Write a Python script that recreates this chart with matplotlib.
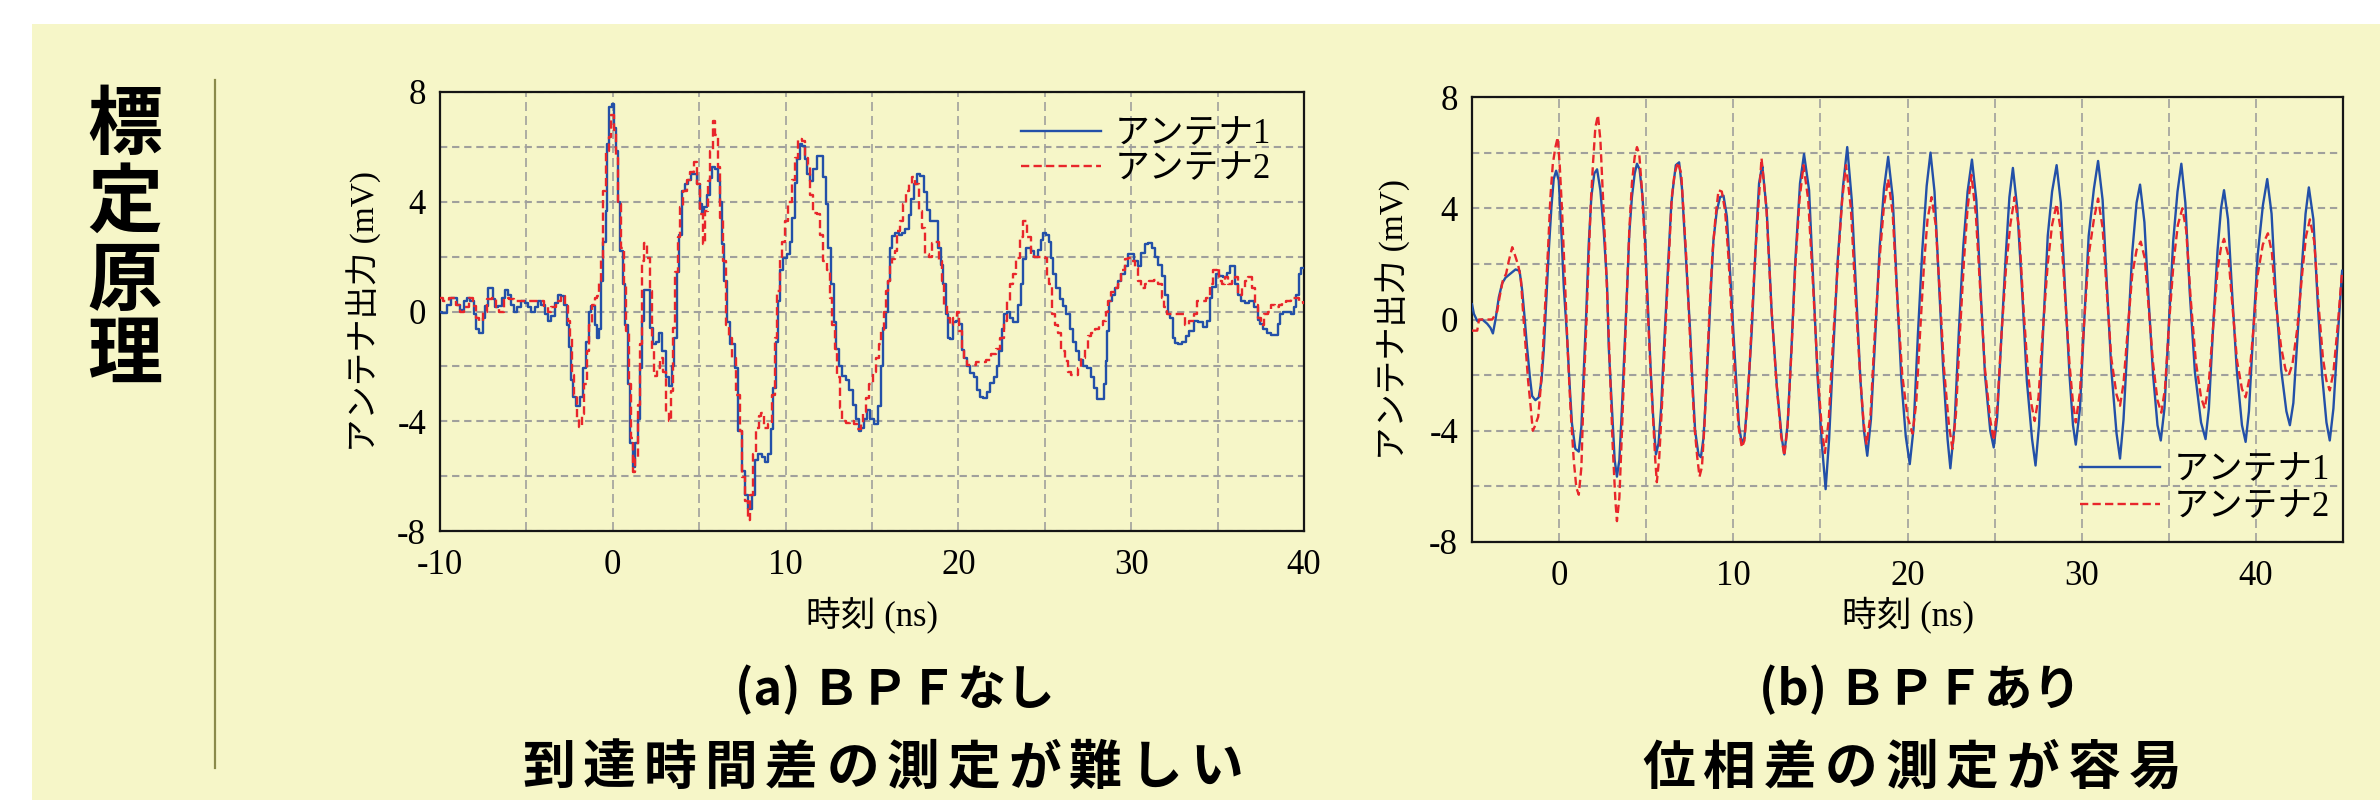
import numpy as np
import matplotlib
matplotlib.use("Agg")
import matplotlib.pyplot as plt
from matplotlib.patches import Rectangle
from matplotlib.lines import Line2D

# ---- データ (時刻 ns, 出力 mV) ----
# (a) BPFなし アンテナ1
sig_a1 = [
    (-10.0, 0.0), (-9.74, -0.05), (-9.45, 0.25), (-9.26, 0.5), (-9.06, 0.5), (-8.97, 0.25), (-8.77, 0.05),
    (-8.48, 0.4), (-8.39, 0.5), (-8.1, 0.4), (-8.0, -0.1), (-7.85, -0.65), (-7.62, -0.8), (-7.42, -0.25),
    (-7.32, 0.2), (-7.17, 0.85), (-7.03, 0.85), (-6.84, 0.45), (-6.75, 0.15), (-6.49, 0.2), (-6.36, 0.5),
    (-6.17, 0.8), (-5.97, 0.6), (-5.78, 0.25), (-5.68, 0.0), (-5.39, 0.15), (-5.2, 0.4), (-5.01, 0.3),
    (-4.81, 0.15), (-4.62, 0.0), (-4.43, 0.15), (-4.23, 0.4), (-4.04, 0.25), (-3.85, -0.1), (-3.65, -0.35),
    (-3.46, -0.15), (-3.27, 0.3), (-3.13, 0.6), (-2.88, 0.55), (-2.75, 0.25), (-2.59, -0.5), (-2.44, -1.3),
    (-2.36, -2.5), (-2.2, -3.1), (-2.01, -3.45), (-1.82, -3.1), (-1.62, -2.05), (-1.47, -1.1), (-1.33, 0.0),
    (-1.14, 0.2), (-0.95, -0.5), (-0.85, -0.95), (-0.72, -0.65), (-0.62, 1.1), (-0.47, 2.55), (-0.37, 3.65),
    (-0.27, 6.1), (-0.14, 7.45), (0.02, 7.55), (0.11, 6.7), (0.21, 5.85), (0.35, 4.0), (0.5, 2.2),
    (0.66, 1.0), (0.79, -0.5), (0.93, -2.65), (1.08, -4.8), (1.24, -5.65), (1.37, -4.8), (1.51, -3.9),
    (1.62, -2.05), (1.76, -0.35), (1.89, 0.8), (2.05, 0.8), (2.2, -0.6), (2.4, -1.2), (2.59, -1.1),
    (2.78, -0.8), (2.97, -1.45), (3.17, -2.4), (3.36, -2.7), (3.5, -2.0), (3.63, -0.95), (3.75, 1.45),
    (3.94, 2.8), (4.08, 4.4), (4.27, 4.65), (4.46, 4.8), (4.6, 5.0), (4.79, 5.0), (4.95, 4.65),
    (5.1, 3.9), (5.24, 3.6), (5.37, 3.8), (5.53, 4.25), (5.68, 4.85), (5.85, 5.25), (6.01, 5.2),
    (6.14, 4.75), (6.26, 4.0), (6.39, 2.45), (6.53, 1.1), (6.7, -0.4), (6.92, -1.2), (7.17, -2.05),
    (7.36, -4.35), (7.55, -5.8), (7.75, -6.7), (7.94, -7.2), (8.13, -6.7), (8.33, -5.4), (8.52, -5.2),
    (8.71, -5.3), (8.91, -5.5), (9.1, -5.2), (9.23, -4.3), (9.35, -2.8), (9.49, -1.1), (9.62, 0.4),
    (9.78, 1.5), (9.97, 1.95), (10.16, 2.1), (10.32, 2.55), (10.45, 3.4), (10.59, 4.7), (10.74, 5.55),
    (10.9, 6.1), (11.03, 6.05), (11.17, 5.55), (11.32, 5.0), (11.51, 4.75), (11.71, 5.2), (11.9, 5.65),
    (12.09, 5.65), (12.25, 4.9), (12.38, 3.9), (12.58, 2.3), (12.71, 1.0), (12.87, -0.4), (13.02, -1.35),
    (13.16, -2.0), (13.35, -2.35), (13.6, -2.5), (13.79, -2.85), (13.99, -3.4), (14.12, -3.9), (14.32, -4.35),
    (14.45, -4.25), (14.61, -3.9), (14.76, -3.6), (14.99, -3.9), (15.22, -4.1), (15.42, -3.45), (15.57, -2.0),
    (15.73, -0.6), (15.86, 0.0), (15.96, 1.1), (16.09, 2.3), (16.25, 2.75), (16.44, 2.85), (16.63, 2.8),
    (16.83, 2.85), (17.02, 3.0), (17.21, 3.5), (17.35, 4.1), (17.5, 4.65), (17.7, 5.0), (17.89, 4.95),
    (18.08, 4.35), (18.24, 3.7), (18.43, 3.3), (18.76, 3.3), (18.9, 2.3), (19.05, 1.7), (19.21, 1.0),
    (19.3, -0.1), (19.44, -0.95), (19.59, -1.0), (19.79, -0.4), (19.96, -0.35), (20.11, -0.45), (20.25, -1.4),
    (20.4, -1.7), (20.6, -2.0), (20.79, -2.25), (20.98, -2.4), (21.14, -2.85), (21.33, -3.1), (21.52, -3.15),
    (21.76, -2.95), (21.95, -2.6), (22.14, -2.4), (22.3, -2.0), (22.43, -1.45), (22.57, -0.65), (22.72, -0.1),
    (22.92, 0.0), (23.07, -0.25), (23.26, -0.4), (23.39, -0.4), (23.54, 0.25), (23.69, 1.0), (23.83, 1.9),
    (23.96, 2.3), (24.12, 2.3), (24.27, 2.2), (24.47, 2.0), (24.7, 2.25), (24.85, 2.6), (24.99, 2.85),
    (25.18, 2.8), (25.32, 2.55), (25.43, 1.95), (25.57, 1.35), (25.76, 0.85), (25.96, 0.45), (26.11, 0.2),
    (26.34, -0.1), (26.53, -0.65), (26.73, -1.1), (26.92, -1.45), (27.06, -1.75), (27.31, -2.0), (27.6, -2.05),
    (27.79, -2.4), (27.95, -2.8), (28.08, -3.2), (28.33, -3.2), (28.47, -2.65), (28.56, -1.8), (28.66, -0.7),
    (28.8, 0.4), (28.95, 0.6), (29.14, 0.85), (29.34, 1.1), (29.53, 1.35), (29.72, 1.65), (29.92, 2.1),
    (30.07, 2.1), (30.26, 1.85), (30.5, 1.65), (30.69, 2.15), (30.88, 2.45), (31.08, 2.5), (31.27, 2.3),
    (31.46, 2.0), (31.66, 1.7), (31.85, 1.3), (32.04, 0.6), (32.2, -0.1), (32.33, -0.25), (32.49, -0.95),
    (32.62, -1.15), (32.85, -1.2), (33.05, -1.1), (33.24, -0.9), (33.49, -0.7), (33.74, -0.35), (34.01, -0.4),
    (34.26, -0.55), (34.46, -0.35), (34.61, 0.5), (34.79, 0.9), (34.98, 1.35), (35.23, 1.3), (35.42, 1.25),
    (35.62, 1.4), (35.81, 1.65), (35.95, 1.65), (36.1, 1.0), (36.25, 0.6), (36.49, 0.4), (36.72, 0.3),
    (36.97, 0.4), (37.22, 0.15), (37.41, -0.3), (37.55, -0.45), (37.74, -0.65), (37.99, -0.8), (38.23, -0.85),
    (38.42, -0.85), (38.57, -0.45), (38.71, -0.1), (38.84, 0.0), (39.09, 0.0), (39.35, -0.1), (39.5, 0.15),
    (39.62, 0.6), (39.77, 1.35), (39.93, 1.6), (40.0, 1.6),
]
# (a) BPFなし アンテナ2
sig_a2 = [
    (-10.0, 0.5), (-9.64, 0.4), (-9.35, 0.5), (-9.16, 0.5), (-8.97, 0.25), (-8.77, 0.0), (-8.48, 0.15),
    (-8.2, 0.5), (-8.0, 0.2), (-7.81, -0.25), (-7.62, -0.35), (-7.42, 0.0), (-7.13, 0.45), (-6.88, 0.5),
    (-6.69, 0.15), (-6.46, 0.0), (-6.17, 0.5), (-5.88, 0.45), (-5.59, 0.4), (-5.2, 0.4), (-4.81, 0.4),
    (-4.43, 0.4), (-4.14, 0.4), (-3.85, 0.15), (-3.65, 0.0), (-3.46, 0.15), (-3.17, 0.4), (-2.88, 0.55),
    (-2.69, 0.2), (-2.55, -0.35), (-2.44, -0.95), (-2.3, -2.3), (-2.17, -3.05), (-2.01, -3.9), (-1.88, -4.2),
    (-1.72, -3.75), (-1.59, -2.65), (-1.43, -1.45), (-1.28, -0.5), (-1.14, 0.25), (-0.95, 0.5), (-0.85, 0.55),
    (-0.76, 1.1), (-0.62, 1.95), (-0.47, 4.4), (-0.31, 5.85), (-0.18, 6.35), (-0.02, 7.15), (0.11, 6.6),
    (0.25, 5.6), (0.4, 3.9), (0.6, 2.3), (0.73, 1.0), (0.85, -0.7), (0.98, -2.65), (1.08, -4.6),
    (1.24, -5.85), (1.37, -5.35), (1.51, -3.4), (1.62, -1.2), (1.76, 1.85), (1.89, 2.5), (2.05, 1.95),
    (2.2, 0.75), (2.34, -1.45), (2.47, -2.35), (2.63, -2.05), (2.82, -1.7), (2.97, -2.2), (3.17, -3.65),
    (3.3, -4.0), (3.44, -2.9), (3.55, -0.6), (3.69, 1.45), (3.82, 2.7), (3.98, 3.8), (4.17, 4.4),
    (4.37, 4.8), (4.6, 5.1), (4.79, 5.45), (4.95, 4.65), (5.14, 3.55), (5.29, 2.45), (5.43, 3.65),
    (5.56, 4.75), (5.72, 5.85), (5.87, 6.95), (6.01, 6.45), (6.14, 5.25), (6.3, 3.4), (6.45, 1.85),
    (6.65, -0.5), (6.78, -0.95), (7.03, -1.7), (7.26, -3.05), (7.42, -4.35), (7.55, -6.05), (7.75, -6.9),
    (7.88, -7.6), (8.04, -6.7), (8.19, -5.2), (8.36, -4.25), (8.52, -3.8), (8.65, -3.7), (8.85, -4.25),
    (9.1, -4.1), (9.29, -3.05), (9.43, -0.95), (9.58, 0.75), (9.74, 1.95), (9.87, 2.55), (10.07, 3.3),
    (10.26, 4.0), (10.45, 4.8), (10.64, 5.6), (10.84, 6.3), (11.03, 6.2), (11.22, 5.6), (11.36, 5.35),
    (11.51, 4.25), (11.71, 3.6), (11.9, 3.55), (12.09, 2.8), (12.29, 1.85), (12.48, 1.5), (12.63, 0.5),
    (12.77, -0.5), (12.91, -1.35), (13.06, -2.4), (13.21, -3.5), (13.37, -4.0), (13.6, -4.05), (13.83, -4.0),
    (14.06, -4.1), (14.26, -4.3), (14.41, -4.1), (14.57, -3.65), (14.76, -3.15), (14.95, -2.65), (15.15, -2.2),
    (15.34, -1.7), (15.48, -1.2), (15.61, -0.7), (15.73, 0.0), (15.86, 0.75), (15.96, 1.1), (16.09, 1.7),
    (16.25, 1.9), (16.38, 2.2), (16.54, 2.95), (16.69, 3.3), (16.89, 3.9), (17.02, 4.4), (17.21, 4.65),
    (17.41, 4.9), (17.6, 4.65), (17.79, 3.65), (17.99, 3.05), (18.18, 2.1), (18.37, 2.0), (18.57, 2.5),
    (18.76, 2.55), (18.95, 1.85), (19.15, 1.1), (19.24, 0.25), (19.4, -0.25), (19.59, -0.5), (19.82, -0.25),
    (19.98, 0.0), (20.11, -0.7), (20.25, -1.35), (20.4, -1.8), (20.63, -1.95), (20.89, -1.95), (21.18, -1.85),
    (21.47, -1.85), (21.76, -1.75), (22.05, -1.55), (22.34, -1.35), (22.53, -0.95), (22.72, -0.35), (22.88, 0.4),
    (23.07, 1.0), (23.26, 1.35), (23.46, 1.95), (23.65, 2.7), (23.83, 3.3), (24.08, 2.7), (24.27, 2.1),
    (24.5, 2.0), (24.89, 2.0), (25.09, 1.95), (25.18, 1.25), (25.32, 1.0), (25.47, -0.1), (25.67, -0.5),
    (25.86, -0.8), (26.05, -1.45), (26.24, -1.8), (26.44, -2.2), (26.63, -2.3), (26.82, -2.3), (27.02, -2.05),
    (27.21, -1.7), (27.4, -1.35), (27.6, -0.9), (27.79, -0.8), (28.02, -0.65), (28.27, -0.5), (28.47, -0.35),
    (28.6, 0.0), (28.76, 0.4), (28.95, 0.7), (29.14, 0.85), (29.34, 1.0), (29.53, 1.5), (29.72, 1.9),
    (29.92, 1.95), (30.11, 1.85), (30.3, 1.6), (30.5, 1.1), (30.69, 0.85), (30.92, 1.0), (31.17, 1.1),
    (31.46, 1.15), (31.69, 1.0), (31.85, 0.5), (32.0, 0.15), (32.2, -0.1), (32.43, -0.1), (32.72, -0.1),
    (33.01, -0.1), (33.24, -0.5), (33.49, -0.35), (33.74, -0.1), (33.88, 0.4), (34.17, 0.4), (34.46, 0.5),
    (34.65, 1.0), (34.84, 1.5), (35.04, 1.6), (35.17, 1.1), (35.33, 1.0), (35.52, 1.25), (35.71, 1.0),
    (35.91, 1.1), (36.1, 1.25), (36.29, 0.6), (36.49, 0.85), (36.68, 1.1), (36.87, 1.25), (37.1, 0.85),
    (37.26, 0.25), (37.45, -0.25), (37.61, -0.5), (37.8, -0.1), (37.99, 0.0), (38.23, 0.25), (38.42, 0.15),
    (38.65, 0.25), (38.84, 0.3), (39.09, 0.4), (39.35, 0.5), (39.58, 0.5), (39.87, 0.4), (40.0, 0.3),
]
# (b) BPFあり アンテナ1
sig_b1 = [
    (-5.0, 0.55), (-4.89, 0.2), (-4.7, -0.05), (-4.41, 0.0), (-4.13, -0.15), (-3.94, -0.3), (-3.8, -0.5),
    (-3.65, 0.0), (-3.46, 0.8), (-3.27, 1.3), (-3.08, 1.5), (-2.89, 1.6), (-2.69, 1.7), (-2.5, 1.8),
    (-2.27, 1.75), (-2.12, 1.05), (-1.97, 0.0), (-1.84, -1.0), (-1.68, -2.05), (-1.55, -2.75), (-1.36, -2.9),
    (-1.17, -2.8), (-1.01, -2.2), (-0.88, -1.1), (-0.75, 0.55), (-0.59, 2.5), (-0.44, 4.05), (-0.31, 5.05),
    (-0.17, 5.35), (-0.02, 5.0), (0.11, 3.45), (0.27, 1.15), (0.46, -0.65), (0.59, -2.2), (0.74, -3.75),
    (0.93, -4.65), (1.13, -4.75), (1.28, -3.85), (1.41, -1.95), (1.55, 0.1), (1.7, 2.7), (1.85, 4.4),
    (2.02, 5.25), (2.18, 5.4), (2.37, 4.65), (2.56, 3.2), (2.75, 1.3), (2.85, -1.0), (3.04, -3.25),
    (3.19, -5.05), (3.32, -5.65), (3.46, -5.05), (3.61, -3.15), (3.76, -1.0), (3.9, 1.05), (4.03, 3.1),
    (4.18, 4.4), (4.34, 5.25), (4.47, 5.6), (4.62, 5.4), (4.79, 4.4), (4.95, 2.7), (5.1, 0.45),
    (5.25, -1.7), (5.4, -3.5), (5.56, -4.85), (5.71, -4.45), (5.86, -3.15), (6.0, -1.25), (6.15, 0.55),
    (6.28, 2.25), (6.44, 4.15), (6.57, 4.9), (6.7, 5.55), (6.89, 5.65), (7.05, 4.75), (7.2, 3.1),
    (7.35, 1.4), (7.53, -0.5), (7.66, -2.3), (7.81, -4.0), (8.0, -4.85), (8.14, -4.95), (8.29, -4.25),
    (8.42, -2.8), (8.58, -0.75), (8.73, 1.3), (8.86, 2.85), (9.05, 3.9), (9.24, 4.4), (9.44, 4.45),
    (9.63, 3.7), (9.82, 1.65), (10.01, -0.5), (10.2, -2.55), (10.33, -3.85), (10.49, -4.45), (10.64, -4.25),
    (10.77, -3.25), (10.91, -1.95), (11.06, -0.4), (11.21, 1.65), (11.35, 3.45), (11.48, 4.9), (11.59, 5.3),
    (11.67, 5.5), (11.92, 3.9), (12.2, 0.3), (12.5, -2.4), (12.78, -4.25), (12.93, -4.85), (13.12, -3.75),
    (13.35, -0.9), (13.55, 2.0), (13.83, 4.9), (14.06, 5.95), (14.35, 4.65), (14.6, 1.2), (14.85, -2.2),
    (15.1, -4.6), (15.3, -6.1), (15.5, -4.3), (15.75, -1.0), (16.0, 2.2), (16.3, 4.8), (16.54, 6.2),
    (16.8, 4.3), (17.05, 1.0), (17.3, -2.2), (17.5, -4.0), (17.69, -4.9), (17.9, -3.6), (18.15, -0.6),
    (18.4, 2.6), (18.65, 4.7), (18.89, 5.85), (19.15, 4.4), (19.4, 1.0), (19.65, -2.2), (19.9, -4.2),
    (20.13, -5.2), (20.35, -3.9), (20.6, -0.5), (20.85, 2.5), (21.1, 4.8), (21.32, 6.0), (21.55, 4.6),
    (21.8, 1.4), (22.05, -1.8), (22.3, -4.3), (22.46, -5.35), (22.7, -3.8), (22.95, -0.4), (23.2, 2.6),
    (23.45, 4.6), (23.7, 5.75), (23.95, 4.3), (24.2, 1.0), (24.45, -2.0), (24.75, -4.0), (24.95, -4.6),
    (25.15, -3.5), (25.4, -0.5), (25.65, 2.4), (25.85, 4.4), (26.05, 5.45), (26.3, 4.0), (26.6, 0.8),
    (26.85, -2.2), (27.15, -4.3), (27.35, -5.25), (27.55, -3.8), (27.8, -0.2), (28.05, 3.0), (28.3, 4.6),
    (28.56, 5.55), (28.8, 4.2), (29.05, 1.0), (29.3, -2.0), (29.5, -3.8), (29.66, -4.5), (29.9, -3.2),
    (30.15, 0.0), (30.4, 3.0), (30.7, 4.7), (30.94, 5.7), (31.2, 4.3), (31.45, 1.2), (31.7, -1.8),
    (32.0, -4.1), (32.2, -5.0), (32.4, -3.6), (32.65, -0.6), (32.9, 2.4), (33.15, 4.2), (33.35, 4.85),
    (33.6, 3.5), (33.85, 0.6), (34.1, -2.0), (34.35, -3.8), (34.54, -4.35), (34.75, -3.2), (35.0, -0.2),
    (35.25, 2.8), (35.5, 4.6), (35.72, 5.6), (35.95, 4.2), (36.2, 1.0), (36.5, -1.9), (36.85, -3.7),
    (37.11, -4.3), (37.3, -3.2), (37.55, -0.2), (37.8, 2.5), (38.0, 4.0), (38.17, 4.65), (38.4, 3.6),
    (38.65, 0.8), (38.9, -1.8), (39.2, -3.8), (39.41, -4.4), (39.6, -3.3), (39.85, -0.4), (40.1, 2.3),
    (40.4, 4.1), (40.65, 5.05), (40.9, 3.8), (41.15, 0.8), (41.45, -1.8), (41.75, -3.3), (41.95, -3.8),
    (42.15, -3.0), (42.4, -0.5), (42.65, 2.0), (42.85, 3.8), (43.04, 4.75), (43.3, 3.6), (43.55, 0.6),
    (43.8, -2.0), (44.05, -3.7), (44.24, -4.35), (44.45, -3.2), (44.7, -0.6), (44.95, 1.75),
]
# (b) BPFあり アンテナ2
sig_b2 = [
    (-5.0, -0.4), (-4.7, -0.4), (-4.6, 0.0), (-4.22, 0.0), (-3.84, 0.0), (-3.55, 0.3), (-3.42, 0.8),
    (-3.23, 1.4), (-3.04, 1.65), (-2.89, 2.1), (-2.69, 2.6), (-2.5, 2.25), (-2.35, 1.95), (-2.2, 1.5),
    (-2.05, 0.1), (-1.93, -0.9), (-1.78, -2.2), (-1.63, -3.15), (-1.51, -4.0), (-1.4, -3.85), (-1.2, -3.5),
    (-1.07, -2.55), (-0.94, -1.25), (-0.78, 0.8), (-0.63, 2.6), (-0.5, 4.4), (-0.36, 5.6), (-0.21, 6.2),
    (-0.08, 6.55), (0.04, 5.5), (0.17, 3.9), (0.32, 1.65), (0.48, -0.9), (0.65, -3.15), (0.84, -5.05),
    (0.99, -6.05), (1.13, -6.3), (1.28, -5.3), (1.41, -2.55), (1.55, -0.4), (1.7, 2.25), (1.83, 4.3),
    (1.95, 5.65), (2.08, 6.9), (2.23, 7.35), (2.37, 6.45), (2.5, 4.65), (2.65, 2.6), (2.81, 0.1),
    (2.94, -2.2), (3.07, -4.45), (3.23, -6.5), (3.32, -7.25), (3.46, -6.4), (3.61, -4.0), (3.76, -1.35),
    (3.9, 1.05), (4.03, 3.2), (4.18, 4.9), (4.34, 5.85), (4.47, 6.2), (4.6, 5.95), (4.76, 4.65),
    (4.91, 2.85), (5.06, 0.8), (5.23, -1.6), (5.39, -3.5), (5.52, -5.05), (5.61, -5.85), (5.75, -4.95),
    (5.9, -3.15), (6.05, -1.1), (6.19, 0.8), (6.32, 2.5), (6.47, 4.4), (6.63, 5.25), (6.82, 5.65),
    (7.01, 5.25), (7.14, 3.9), (7.3, 2.25), (7.47, 0.0), (7.62, -2.05), (7.77, -3.85), (7.93, -4.95),
    (8.06, -5.65), (8.2, -5.3), (8.35, -3.75), (8.5, -1.6), (8.65, 0.55), (8.8, 2.35), (8.96, 3.55),
    (9.15, 4.65), (9.34, 4.6), (9.53, 3.9), (9.72, 2.25), (9.91, 0.1), (10.1, -2.05), (10.3, -3.85),
    (10.49, -4.6), (10.64, -4.35), (10.79, -3.15), (10.96, -1.35), (11.1, 0.45), (11.25, 2.25), (11.4, 3.7),
    (11.54, 5.0), (11.62, 5.8), (11.9, 4.0), (12.18, 0.5), (12.48, -2.3), (12.75, -4.2), (12.93, -4.9),
    (13.12, -3.8), (13.35, -1.0), (13.55, 1.8), (13.8, 4.3), (14.03, 5.55), (14.3, 4.3), (14.58, 1.2),
    (14.85, -2.0), (15.08, -3.9), (15.26, -4.8), (15.48, -3.6), (15.72, -0.8), (16.0, 2.0), (16.25, 4.3),
    (16.47, 5.55), (16.75, 4.0), (17.0, 1.0), (17.28, -2.0), (17.48, -3.7), (17.65, -4.5), (17.88, -3.4),
    (18.12, -0.5), (18.4, 2.2), (18.65, 4.1), (18.89, 5.05), (19.15, 3.8), (19.4, 0.9), (19.7, -2.0),
    (20.0, -3.5), (20.29, -4.1), (20.5, -3.0), (20.72, -0.5), (20.95, 2.0), (21.15, 3.6), (21.38, 4.4),
    (21.62, 3.4), (21.85, 1.0), (22.1, -1.8), (22.38, -3.8), (22.58, -4.65), (22.78, -3.4), (23.0, -0.6),
    (23.25, 2.2), (23.45, 4.0), (23.67, 5.2), (23.92, 3.8), (24.2, 0.8), (24.45, -1.8), (24.75, -3.6),
    (24.95, -4.35), (25.15, -3.2), (25.4, -0.5), (25.65, 1.8), (25.9, 3.4), (26.15, 4.4), (26.4, 3.3),
    (26.65, 0.5), (26.9, -1.8), (27.1, -3.0), (27.3, -3.65), (27.52, -2.8), (27.78, -0.3), (28.05, 2.0),
    (28.3, 3.4), (28.56, 4.15), (28.8, 3.2), (29.05, 0.8), (29.3, -1.6), (29.5, -3.0), (29.66, -3.7),
    (29.9, -2.6), (30.15, 0.0), (30.4, 2.3), (30.7, 3.6), (30.94, 4.35), (31.2, 3.3), (31.45, 0.9),
    (31.7, -1.4), (32.0, -2.7), (32.2, -3.1), (32.4, -2.3), (32.65, -0.3), (32.9, 1.6), (33.15, 2.5),
    (33.39, 2.8), (33.62, 2.2), (33.85, 0.4), (34.1, -1.6), (34.35, -2.9), (34.57, -3.35), (34.78, -2.5),
    (35.02, -0.1), (35.28, 2.1), (35.52, 3.4), (35.78, 4.0), (36.0, 3.2), (36.25, 0.8), (36.55, -1.5),
    (36.85, -2.8), (37.06, -3.2), (37.28, -2.4), (37.55, -0.2), (37.8, 1.8), (38.0, 2.6), (38.17, 2.9),
    (38.42, 2.3), (38.65, 0.5), (38.92, -1.5), (39.2, -2.5), (39.41, -2.8), (39.6, -2.2), (39.85, -0.4),
    (40.1, 1.6), (40.4, 2.7), (40.69, 3.1), (40.92, 2.4), (41.15, 0.5), (41.45, -1.0), (41.7, -1.8),
    (41.89, -2.0), (42.1, -1.6), (42.38, -0.3), (42.65, 1.6), (42.88, 3.0), (43.1, 3.6), (43.35, 2.8),
    (43.6, 0.5), (43.85, -1.4), (44.05, -2.2), (44.24, -2.55), (44.45, -1.9), (44.7, -0.2), (44.95, 1.75),
]

series_labels = ["アンテナ1", "アンテナ2"]
xlims = [(-10, 40), (-5, 45)]
xticks_major = [[-10, 0, 10, 20, 30, 40], [0, 10, 20, 30, 40]]
xticks_minor = [[-5, 5, 15, 25, 35], [5, 15, 25, 35]]
yticks_major = [-8, -4, 0, 4, 8]
yticks_minor = [-6, -2, 2, 6]
title_chars = "標定原理"
sub1 = ["(a) ＢＰＦなし", "(b) ＢＰＦあり"]
sub2 = ["到達時間差の測定が難しい", "位相差の測定が容易"]

# ---- 見た目 ----
W, H = 2380, 800
CREAM = "#f6f6c8"
BLUE = "#2350a8"
RED = "#e8262b"
GRID = "#a0a09c"
SERIF_JP = ["Liberation Serif", "Noto Sans CJK JP"]
GOTHIC = ["Noto Sans CJK JP", "DejaVu Sans"]

plt.rcParams["font.family"] = SERIF_JP
plt.rcParams["axes.unicode_minus"] = False

fig = plt.figure(figsize=(W / 100, H / 100), dpi=100, facecolor="white")
fig.patches.append(Rectangle((32 / W, 0), 1 - 32 / W, 1 - 24 / H, transform=fig.transFigure,
                             facecolor=CREAM, edgecolor="none", zorder=-5))
fig.add_artist(Line2D([215 / W, 215 / W], [1 - 80 / H, 1 - 768 / H], color="#8a8a4a", lw=1.6))

# 縦書きの見出し
for ch, yb in zip(title_chars, [148, 226, 304, 378]):
    fig.text(125 / W, 1 - yb / H, ch, ha="center", va="baseline", fontsize=54,
             fontweight="bold", family=GOTHIC)

# axes の位置 (px)
boxes = [(440, 92, 1304, 531), (1472, 97, 2343, 542)]
data = [(sig_a1, sig_a2), (sig_b1, sig_b2)]
styles = ["steps-mid", "default"]   # BPFなしは階段状、BPFありはなめらか
ylab_x = [-0.088, -0.0907]

axes = []
for i, (x0, y0, x1, y1) in enumerate(boxes):
    ax = fig.add_axes([x0 / W, 1 - y1 / H, (x1 - x0) / W, (y1 - y0) / H])
    ax.set_facecolor(CREAM)
    s1 = np.array(data[i][0]).T
    s2 = np.array(data[i][1]).T
    ax.plot(s1[0], s1[1], color=BLUE, lw=1.7, drawstyle=styles[i], label=series_labels[0], zorder=3)
    ax.plot(s2[0], s2[1], color=RED, lw=1.7, ls=(0, (3.5, 1.8)), drawstyle=styles[i],
            label=series_labels[1], zorder=4)
    ax.set_xlim(*xlims[i])
    ax.set_ylim(-8, 8)
    ax.set_xticks(xticks_major[i])
    ax.set_xticks(xticks_minor[i], minor=True)
    ax.set_yticks(yticks_major)
    ax.set_yticks(yticks_minor, minor=True)
    ax.tick_params(which="both", length=0, labelsize=25)
    ax.tick_params(axis="x", pad=13)
    ax.tick_params(axis="y", pad=10)
    ax.xaxis.grid(True, which="both", color=GRID, lw=1.2, ls=(0, (5.4, 3.0)))
    ax.yaxis.grid(True, which="both", color=GRID, lw=1.5, ls=(0, (3.5, 2.3)))
    ax.set_axisbelow(True)
    for sp in ax.spines.values():
        sp.set_linewidth(1.6)
        sp.set_color("#151515")
    ax.set_xlabel("時刻 (ns)", fontsize=25, va="center")
    ax.set_ylabel("アンテナ出力 (mV)", fontsize=24, va="center")
    ax.xaxis.set_label_coords(0.5, (y1 - 615) / (y1 - y0))
    ax.yaxis.set_label_coords(ylab_x[i], 0.5)
    axes.append(ax)

axes[0].legend(loc="upper right", bbox_to_anchor=(0.962, 0.94), frameon=False, fontsize=25,
               handlelength=2.3, handletextpad=0.4, labelspacing=0.05, borderaxespad=0, borderpad=0)
axes[1].legend(loc="lower right", bbox_to_anchor=(0.985, 0.04), frameon=False, fontsize=25,
               handlelength=2.3, handletextpad=0.4, labelspacing=0.12, borderaxespad=0, borderpad=0)

# 下のキャプション
sub1_cx = [895, 1920]
for k in range(2):
    fig.text(sub1_cx[k] / W, 1 - 705 / H, sub1[k], ha="center", va="baseline", fontsize=35,
             fontweight="bold", family=GOTHIC)
# 二行目は字間を空けて一文字ずつ
sub2_start = [518, 1638]
for k in range(2):
    for j, ch in enumerate(sub2[k]):
        x = sub2_start[k] + 30.5 + j * 60.8
        fig.text(x / W, 1 - 784 / H, ch, ha="center", va="baseline", fontsize=38,
                 fontweight="bold", family=GOTHIC)

fig.savefig("out.png", dpi=100, facecolor="white")
